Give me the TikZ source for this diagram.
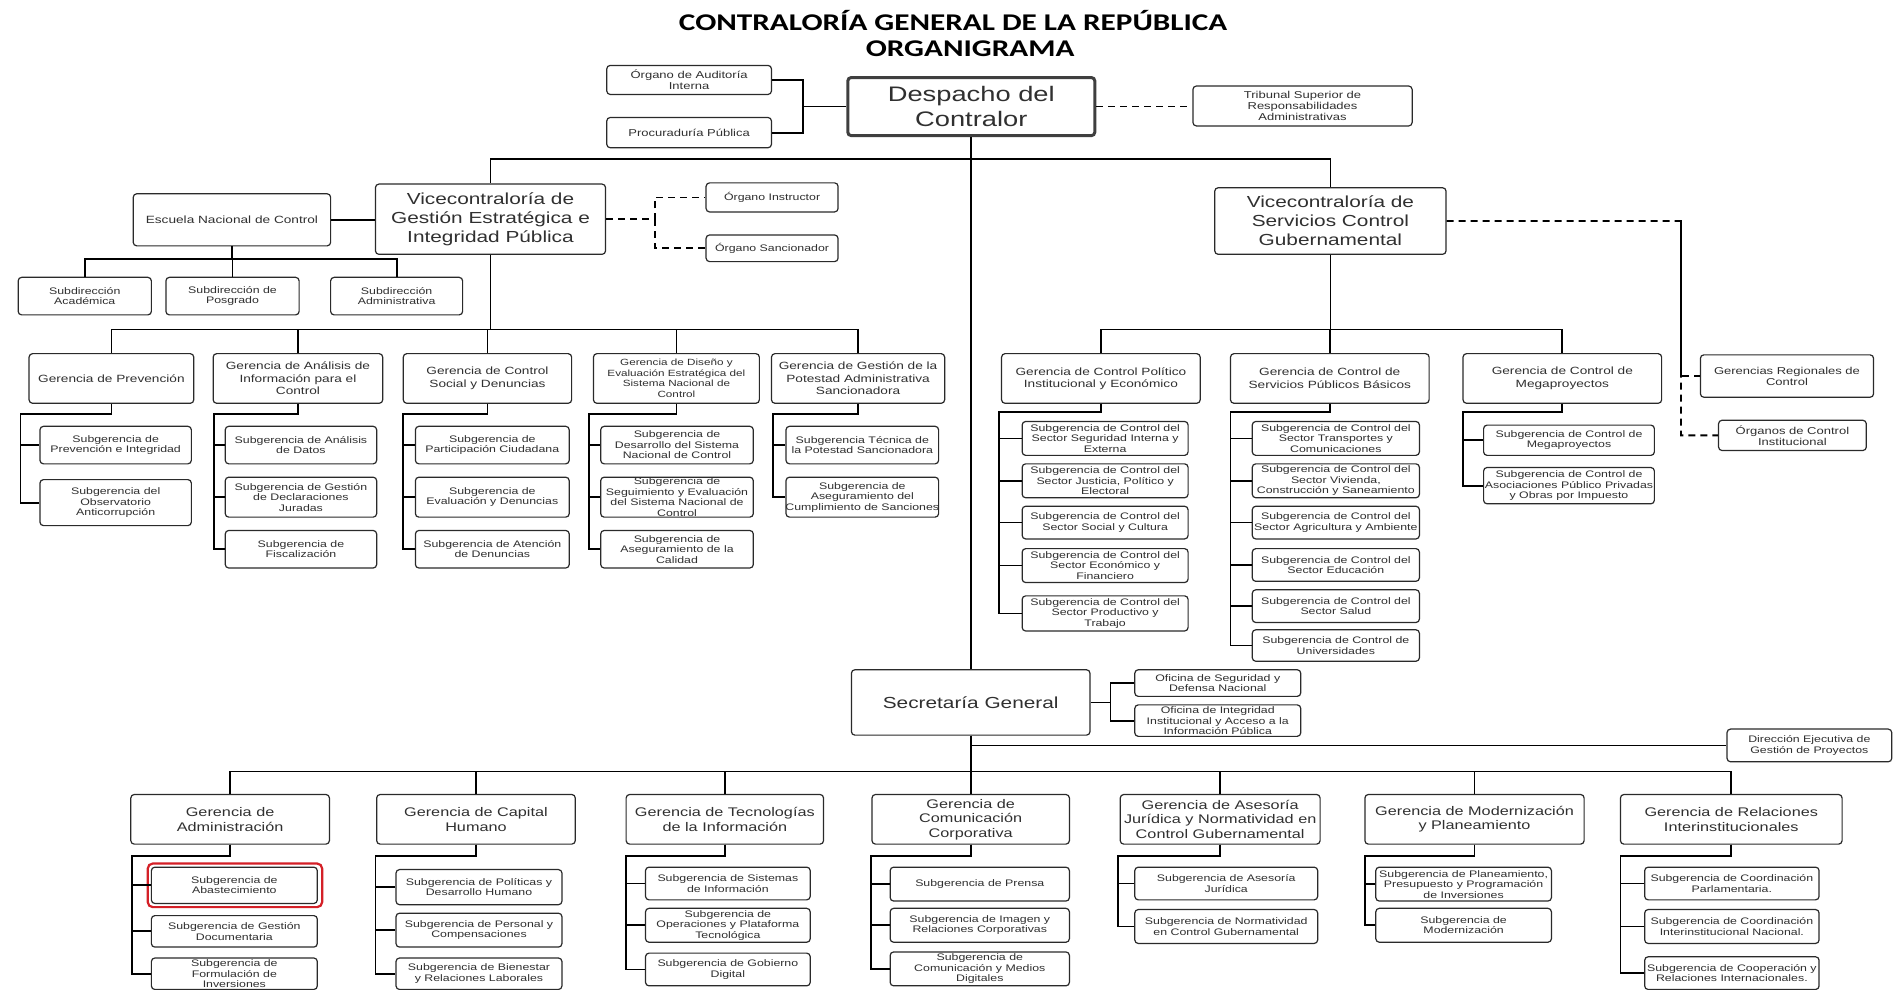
\documentclass[tikz,border=0pt]{standalone}
\usepackage{fontspec}
\setmainfont{Liberation Sans}[FakeStretch=1.3]
\newfontfamily\titlefont{Carlito}[FakeStretch=1.3]
\usetikzlibrary{fit}
\definecolor{boxc}{HTML}{2A2A2A}
\definecolor{txtc}{HTML}{303030}
\definecolor{hl}{HTML}{D42027}
\tikzset{
  box/.style={draw=boxc, line width=1.2pt, rounded corners=3.5pt, inner sep=0pt, fill=white},
  lbl/.style={align=center, inner sep=0pt, text=txtc},
  conn/.style={draw=black, line width=1.8pt},
  dconn/.style={conn, dash pattern=on 7pt off 5pt},
  fA/.style={font=\fontsize{21}{25}\selectfont},
  fV/.style={font=\fontsize{16}{19}\selectfont},
  fG/.style={font=\fontsize{10.5}{12.5}\selectfont},
  fGs/.style={font=\fontsize{9}{10.5}\selectfont},
  fK/.style={font=\fontsize{12.5}{14.5}\selectfont},
  fS/.style={font=\fontsize{9.5}{10.5}\selectfont},
  fT/.style={font=\fontsize{10}{11}\selectfont},
}
\newcommand\bx[8][]{%
  \node[box,#1,fit={(#4,#5) (#6,#7)}] (#3) {};
  \node[lbl,#2] (#3t) at (#3.center) {#8};}
\newcommand\kid[4]{\draw[conn] (#1.south) |- (#2,#3) |- (#4.west);}
\begin{document}
\begin{tikzpicture}[x=1.2111pt,y=-1.2111pt]
\useasboundingbox (0,0) rectangle (1568,817);
\fill[white] (0,0) rectangle (1568,817);
% title
\node[font=\titlefont\fontsize{24}{28}\selectfont\bfseries] (title) at (787,17) {CONTRALORÍA GENERAL DE LA REPÚBLICA};
\node[font=\titlefont\fontsize{24}{28}\selectfont\bfseries] (title2) at (801,40) {ORGANIGRAMA};
% top
\bx{fT}{aud}{501}{54}{637}{78}{Órgano de Auditoría\\Interna}
\bx{fT}{proc}{501}{97}{637}{122}{Procuraduría Pública}
\bx[line width=3pt, draw=boxc!90]{fA}{desp}{700}{64}{904}{112}{Despacho del\\Contralor}
\bx{fT}{trib}{985}{71}{1166}{104}{Tribunal Superior de\\Responsabilidades\\Administrativas}
% vice row
\bx{fG}{esc}{110}{160}{273}{203}{Escuela Nacional de Control}
\bx{fV}{vA}{310}{152}{500}{210}{Vicecontraloría de\\Gestión Estratégica e\\Integridad Pública}
\bx{fS}{oi}{583}{151}{692}{175}{Órgano Instructor}
\bx{fS}{os}{583}{194}{692}{216}{Órgano Sancionador}
\bx{fV}{vB}{1003}{155}{1194}{210}{Vicecontraloría de\\Servicios Control\\Gubernamental}
\bx{fT}{gr}{1404}{293}{1547}{328}{Gerencias Regionales de\\Control}
\bx{fT}{oci}{1419}{347}{1541}{372}{Órganos de Control\\Institucional}
% subdirecciones
\bx{fS}{sa}{15}{229}{125}{260}{Subdirección\\Académica}
\bx{fS}{sp}{137}{229}{247}{260}{Subdirección de\\Posgrado}
\bx{fS}{sd}{273}{229}{382}{260}{Subdirección\\Administrativa}
% gerencias vice A
\bx{fG}{gA}{24}{292}{160}{333}{Gerencia de Prevención}
\bx{fG}{gB}{176}{292}{316}{333}{Gerencia de Análisis de\\Información para el\\Control}
\bx{fG}{gC}{333}{292}{472}{333}{Gerencia de Control\\Social y Denuncias}
\bx{fGs}{gD}{490}{292}{627}{333}{Gerencia de Diseño y\\Evaluación Estratégica del\\Sistema Nacional de\\Control}
\bx{fG}{gE}{637}{292}{780}{333}{Gerencia de Gestión de la\\Potestad Administrativa\\Sancionadora}
\bx{fS}{sA1}{33}{352}{158}{383}{Subgerencia de\\Prevención e Integridad}
\bx{fS}{sA2}{33}{396}{158}{434}{Subgerencia del\\Observatorio\\Anticorrupción}
\bx{fS}{sB1}{186}{352}{311}{383}{Subgerencia de Análisis\\de Datos}
\bx{fS}{sB2}{186}{394}{311}{427}{Subgerencia de Gestión\\de Declaraciones\\Juradas}
\bx{fS}{sB3}{186}{438}{311}{469}{Subgerencia de\\Fiscalización}
\bx{fS}{sC1}{343}{352}{470}{383}{Subgerencia de\\Participación Ciudadana}
\bx{fS}{sC2}{343}{394}{470}{427}{Subgerencia de\\Evaluación y Denuncias}
\bx{fS}{sC3}{343}{438}{470}{469}{Subgerencia de Atención\\de Denuncias}
\bx{fS}{sD1}{496}{352}{622}{383}{Subgerencia de\\Desarrollo del Sistema\\Nacional de Control}
\bx{fS}{sD2}{496}{394}{622}{427}{Subgerencia de\\Seguimiento y Evaluación\\del Sistema Nacional de\\Control}
\bx{fS}{sD3}{496}{438}{622}{469}{Subgerencia de\\Aseguramiento de la\\Calidad}
\bx{fS}{sE1}{649}{352}{775}{383}{Subgerencia Técnica de\\la Potestad Sancionadora}
\bx{fS}{sE2}{649}{394}{775}{427}{Subgerencia de\\Aseguramiento del\\Cumplimiento de Sanciones}
% gerencias vice B
\bx{fG}{hA}{827}{292}{991}{333}{Gerencia de Control Político\\Institucional y Económico}
\bx{fG}{hB}{1016}{292}{1180}{333}{Gerencia de Control de\\Servicios Públicos Básicos}
\bx{fG}{hC}{1208}{292}{1372}{333}{Gerencia de Control de\\Megaproyectos}
\bx{fS}{tA1}{844}{348}{981}{376}{Subgerencia de Control del\\Sector Seguridad Interna y\\Externa}
\bx{fS}{tA2}{844}{383}{981}{411}{Subgerencia de Control del\\Sector Justicia, Político y\\Electoral}
\bx{fS}{tA3}{844}{418}{981}{445}{Subgerencia de Control del\\Sector Social y Cultura}
\bx{fS}{tA4}{844}{453}{981}{481}{Subgerencia de Control del\\Sector Económico y\\Financiero}
\bx{fS}{tA5}{844}{492}{981}{521}{Subgerencia de Control del\\Sector Productivo y\\Trabajo}
\bx{fS}{tB1}{1034}{348}{1172}{376}{Subgerencia de Control del\\Sector Transportes y\\Comunicaciones}
\bx{fS}{tB2}{1034}{383}{1172}{411}{Subgerencia de Control del\\Sector Vivienda,\\Construcción y Saneamiento}
\bx{fS}{tB3}{1034}{418}{1172}{445}{Subgerencia de Control del\\Sector Agricultura y Ambiente}
\bx{fS}{tB4}{1034}{453}{1172}{480}{Subgerencia de Control del\\Sector Educación}
\bx{fS}{tB5}{1034}{487}{1172}{514}{Subgerencia de Control del\\Sector Salud}
\bx{fS}{tB6}{1034}{520}{1172}{546}{Subgerencia de Control de\\Universidades}
\bx{fS}{tC1}{1225}{351}{1366}{376}{Subgerencia de Control de\\Megaproyectos}
\bx{fS}{tC2}{1225}{386}{1366}{416}{Subgerencia de Control de\\Asociaciones Público Privadas\\y Obras por Impuesto}
% secretaria
\bx{fV}{sec}{703}{553}{900}{607}{Secretaría General}
\bx{fS}{of1}{937}{553}{1074}{575}{Oficina de Seguridad y\\Defensa Nacional}
\bx{fS}{of2}{937}{582}{1074}{608}{Oficina de Integridad\\Institucional y Acceso a la\\Información Pública}
\bx{fS}{dir}{1426}{602}{1562}{629}{Dirección Ejecutiva de\\Gestión de Proyectos}
% bottom gerencias
\bx{fK}{kA}{108}{656}{272}{697}{Gerencia de\\Administración}
\bx{fK}{kB}{311}{656}{475}{697}{Gerencia de Capital\\Humano}
\bx{fK}{kC}{517}{656}{680}{697}{Gerencia de Tecnologías\\de la Información}
\bx{fK}{kD}{720}{656}{883}{697}{Gerencia de\\Comunicación\\Corporativa}
\bx{fK}{kE}{925}{656}{1090}{697}{Gerencia de Asesoría\\Jurídica y Normatividad en\\Control Gubernamental}
\bx{fK}{kF}{1127}{656}{1308}{697}{Gerencia de Modernización\\y Planeamiento}
\bx{fK}{kG}{1338}{656}{1521}{697}{Gerencia de Relaciones\\Interinstitucionales}
\bx{fS}{uA1}{125}{716}{262}{746}{Subgerencia de\\Abastecimiento}
\bx{fS}{uA2}{125}{756}{262}{782}{Subgerencia de Gestión\\Documentaria}
\bx{fS}{uA3}{125}{791}{262}{817}{Subgerencia de\\Formulación de\\Inversiones}
\bx{fS}{uB1}{327}{718}{464}{747}{Subgerencia de Políticas y\\Desarrollo Humano}
\bx{fS}{uB2}{327}{754}{464}{782}{Subgerencia de Personal y\\Compensaciones}
\bx{fS}{uB3}{327}{791}{464}{817}{Subgerencia de Bienestar\\y Relaciones Laborales}
\bx{fS}{uC1}{533}{716}{669}{743}{Subgerencia de Sistemas\\de Información}
\bx{fS}{uC2}{533}{750}{669}{778}{Subgerencia de\\Operaciones y Plataforma\\Tecnológica}
\bx{fS}{uC3}{533}{787}{669}{814}{Subgerencia de Gobierno\\Digital}
\bx{fS}{uD1}{735}{716}{883}{744}{Subgerencia de Prensa}
\bx{fS}{uD2}{735}{750}{883}{778}{Subgerencia de Imagen y\\Relaciones Corporativas}
\bx{fS}{uD3}{735}{786}{883}{814}{Subgerencia de\\Comunicación y Medios\\Digitales}
\bx{fS}{uE1}{937}{716}{1088}{743}{Subgerencia de Asesoría\\Jurídica}
\bx{fS}{uE2}{937}{751}{1088}{779}{Subgerencia de Normatividad\\en Control Gubernamental}
\bx{fS}{uF1}{1136}{716}{1281}{744}{Subgerencia de Planeamiento,\\Presupuesto y Programación\\de Inversiones}
\bx{fS}{uF2}{1136}{750}{1281}{778}{Subgerencia de\\Modernización}
\bx{fS}{uG1}{1358}{716}{1502}{743}{Subgerencia de Coordinación\\Parlamentaria.}
\bx{fS}{uG2}{1358}{751}{1502}{779}{Subgerencia de Coordinación\\Interinstitucional Nacional.}
\bx{fS}{uG3}{1358}{790}{1502}{817}{Subgerencia de Cooperación y\\Relaciones Internacionales.}
\node[draw=hl, line width=2.2pt, rounded corners=5pt, inner sep=0pt, fit={(122,713) (266,749)}] (hlbox) {};
% ---------- connectors ----------
\coordinate (jA) at (663,88);
\draw[conn] (aud.east) -| (jA);
\draw[conn] (proc.east) -| (jA);
\draw[conn] (jA) -- (desp.west);
\draw[dconn] (desp.east) -- (desp.east -| trib.west);
\draw[conn] (desp.south) -- (desp.south |- sec.north);
\coordinate (b0) at (802,131);
\draw[conn] (b0) -| (vA.north);
\draw[conn] (b0) -| (vB.north);
\draw[conn] (esc.east) -- (esc.east -| vA.west);
\coordinate (be) at (191.5,214);
\draw[conn] (esc.south) -- (be) -| (sa.north);
\draw[conn] (be) -| (sp.north);
\draw[conn] (be) -| (sd.north);
\coordinate (dvA) at (541,181);
\draw[dconn] (vA.east) -- (dvA) |- (oi.west);
\draw[dconn] (dvA) |- (os.west);
\coordinate (dvB) at (1388,182.5);
\draw[dconn] (vB.east) -- (dvB) |- (oci.west);
\draw[dconn] (dvB) |- (gr.west);
% vice A tree
\coordinate (bA) at (405,272);
\draw[conn] (vA.south) -- (bA);
\foreach \g in {gA,gB,gC,gD,gE} {\draw[conn] (bA) -| (\g.north);}
\kid{gA}{17}{342}{sA1} \kid{gA}{17}{342}{sA2}
\kid{gB}{177}{342}{sB1} \kid{gB}{177}{342}{sB2} \kid{gB}{177}{342}{sB3}
\kid{gC}{333}{342}{sC1} \kid{gC}{333}{342}{sC2} \kid{gC}{333}{342}{sC3}
\kid{gD}{486}{342}{sD1} \kid{gD}{486}{342}{sD2} \kid{gD}{486}{342}{sD3}
\kid{gE}{638}{342}{sE1} \kid{gE}{638}{342}{sE2}
% vice B tree
\coordinate (bB) at (1098.5,272);
\draw[conn] (vB.south) -- (bB);
\foreach \g in {hA,hB,hC} {\draw[conn] (bB) -| (\g.north);}
\foreach \t in {tA1,tA2,tA3,tA4,tA5} {\kid{hA}{825}{340}{\t}}
\foreach \t in {tB1,tB2,tB3,tB4,tB5,tB6} {\kid{hB}{1016}{340}{\t}}
\foreach \t in {tC1,tC2} {\kid{hC}{1208}{340}{\t}}
% secretaria
\coordinate (js) at (917,580);
\draw[conn] (sec.east) -- (js) |- (of1.west);
\draw[conn] (js) |- (of2.west);
\draw[conn] (sec.south) |- (dir.west);
\coordinate (bS) at (801.5,637);
\draw[conn] (sec.south) -- (bS);
\foreach \g in {kA,kB,kC,kD,kE,kF,kG} {\draw[conn] (bS) -| (\g.north);}
\foreach \t in {uA1,uA2,uA3} {\kid{kA}{109}{707}{\t}}
\foreach \t in {uB1,uB2,uB3} {\kid{kB}{310}{707}{\t}}
\foreach \t in {uC1,uC2,uC3} {\kid{kC}{517}{707}{\t}}
\foreach \t in {uD1,uD2,uD3} {\kid{kD}{719}{707}{\t}}
\foreach \t in {uE1,uE2} {\kid{kE}{923}{707}{\t}}
\foreach \t in {uF1,uF2} {\kid{kF}{1127}{707}{\t}}
\foreach \t in {uG1,uG2,uG3} {\kid{kG}{1338}{707}{\t}}
\end{tikzpicture}
\end{document}
